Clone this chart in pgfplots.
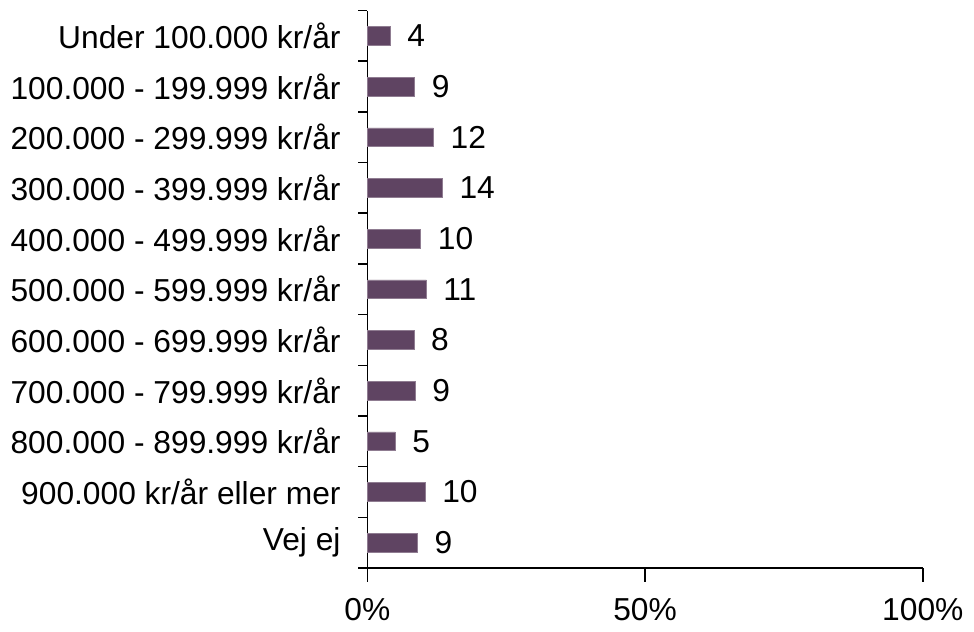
\documentclass[border=0pt]{standalone}
\usepackage{pgfplots}
\pgfplotsset{compat=1.18}
\usepackage{fontspec}
\setmainfont{Liberation Sans}
\definecolor{barpurple}{HTML}{5F4462}
\begin{document}
\fontsize{16}{19}\selectfont
\begin{tikzpicture}
\begin{axis}[
    xbar,
    scale only axis,
    width=280pt,
    height=281pt,
    xmin=0, xmax=100,
    ymin=-0.5, ymax=10.5,
    axis x line*=bottom,
    axis y line*=left,
    axis line style={black, line width=0.8pt},
    tick style={black, line width=0.8pt},
    tick align=outside,
    major tick length=4.5pt,
    xtick=\empty,
    extra x ticks={0,50,100},
    extra x tick labels={0\%, 50\%, 100\%},
    extra x tick style={major tick length=7pt, xticklabel style={yshift=-3pt}},
    ytick={-0.5,0.5,...,10.5},
    yticklabels={},
    extra y ticks={0,...,10},
    extra y tick labels={Vej ej, 900.000 kr/år eller mer, 800.000 - 899.999 kr/år, 700.000 - 799.999 kr/år, 600.000 - 699.999 kr/år, 500.000 - 599.999 kr/år, 400.000 - 499.999 kr/år, 300.000 - 399.999 kr/år, 200.000 - 299.999 kr/år, 100.000 - 199.999 kr/år, Under 100.000 kr/år},
    extra y tick style={major tick length=0pt, tick style={draw=none}, yticklabel style={xshift=-8pt}},
    tick label style={font=\fontsize{16}{19}\selectfont},
    bar width=9.5pt,
    nodes near coords,
    nodes near coords style={font=\fontsize{16}{19}\selectfont, inner sep=0pt, xshift=8.5pt,
        /pgf/number format/.cd, fixed, precision=0, assume math mode=true},
    clip=false,
    after end axis/.code={
        \fill[black] ([yshift=-0.45pt]rel axis cs:0,0) rectangle ([yshift=0.45pt]rel axis cs:1,0);
    },
]
% categories from bottom (Vej ej) to top (Under 100.000 kr/år)
\addplot[fill=barpurple, draw=barpurple!70!white, line width=0.3pt] coordinates {
    (9.0,0) (10.4,1) (5.0,2) (8.6,3) (8.4,4) (10.6,5) (9.6,6) (13.5,7) (11.9,8) (8.5,9) (4.1,10)
};
\end{axis}
\end{tikzpicture}
\end{document}
